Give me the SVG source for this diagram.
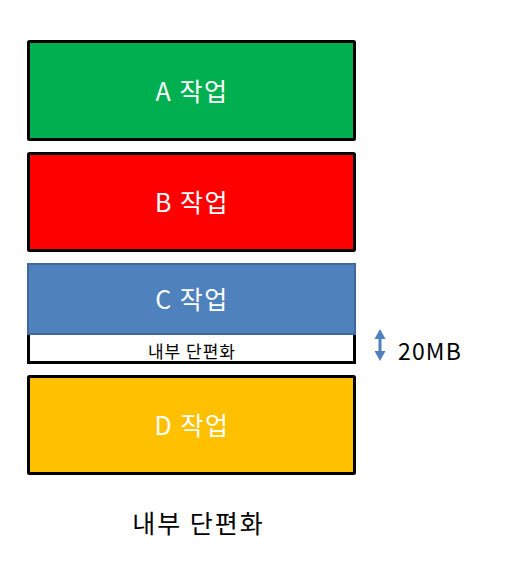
<svg xmlns="http://www.w3.org/2000/svg" width="521" height="569" viewBox="0 0 521 569">
<style>
.box{stroke:#000;stroke-width:3}
.lbl{font-family:"Noto Sans CJK KR","Noto Sans",sans-serif;text-anchor:middle;dominant-baseline:central}
.w{fill:#fff;font-size:25px;letter-spacing:1.5px}
.k{fill:#000}
.arr{fill:#4F81BD}
</style>
<rect width="521" height="569" fill="#fff"/>
<g id="nodeA">
<rect class="box" x="28.5" y="41.5" width="326" height="98" rx="1" fill="#00B050"/>
<text class="lbl w" x="192" y="90">A 작업</text>
</g>
<g id="nodeB">
<rect class="box" x="28.5" y="153.5" width="326" height="97" rx="1" fill="#FF0000"/>
<text class="lbl w" x="192" y="201">B 작업</text>
</g>
<g id="nodeFrag">
<rect class="box" x="28.5" y="332" width="326" height="30.5" fill="#fff"/>
<text class="lbl k" x="192" y="350" font-size="17" letter-spacing="1">내부 단편화</text>
</g>
<g id="nodeC">
<rect x="28" y="264" width="327" height="70" fill="#4F81BD" stroke="#41689A" stroke-width="2"/>
<text class="lbl w" x="192" y="298">C 작업</text>
</g>
<g id="nodeD">
<rect class="box" x="28.5" y="376.5" width="326" height="97" rx="1" fill="#FFC000"/>
<text class="lbl w" x="192" y="424">D 작업</text>
</g>
<g id="connectors">
<line x1="380" y1="336" x2="380" y2="354" stroke="#4F81BD" stroke-width="3"/>
<polygon class="arr" points="380,329 374.5,339 385.5,339"/>
<polygon class="arr" points="380,361 374.5,351 385.5,351"/>
</g>
<text class="lbl k" x="430" y="350" font-size="23" letter-spacing="1.2">20MB</text>
<text class="lbl k" x="198.5" y="522" font-size="25" letter-spacing="2">내부 단편화</text>
</svg>
